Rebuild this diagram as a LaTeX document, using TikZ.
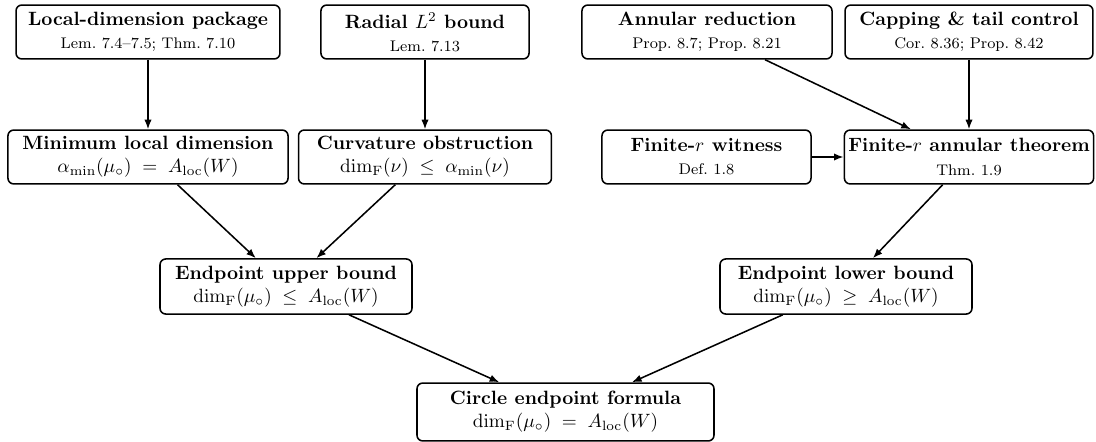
\documentclass[tikz,border=0pt]{standalone}
\usetikzlibrary{arrows.meta}
\begin{document}
\begin{tikzpicture}[x=0.5195pt,y=-0.5195pt,
  box/.style={draw, line width=0.8pt, rounded corners=3pt, align=center, inner sep=2pt, minimum height=28pt, fill=white},
  arr/.style={-{Latex[length=5pt,width=3.8pt]}, line width=0.8pt}]
\useasboundingbox (0,0) rectangle (1096,442);
% row 1
\node[box, minimum width=137.1pt] (ldp) at (148,32) {\textbf{Local-dimension package}\\{\footnotesize Lem.~7.4--7.5; Thm.~7.10}};
\node[box, minimum width=108.1pt] (rad) at (425,32) {\textbf{Radial $L^2$ bound}\\{\footnotesize Lem.~7.13}};
\node[box, minimum width=129.9pt] (ann) at (707,32) {\textbf{Annular reduction}\\{\footnotesize Prop.~8.7; Prop.~8.21}};
\node[box, minimum width=128.8pt] (cap) at (969,32) {\textbf{Capping \& tail control}\\{\footnotesize Cor.~8.36; Prop.~8.42}};
% row 2
\node[box, minimum width=145.5pt] (mld) at (148,157) {\textbf{Minimum local dimension}\\$\alpha_{\min}(\mu_\circ)\;=\;A_{\mathrm{loc}}(W)$};
\node[box, minimum width=131.4pt] (cur) at (425,157) {\textbf{Curvature obstruction}\\$\dim_{\mathrm{F}}(\nu)\;\le\;\alpha_{\min}(\nu)$};
\node[box, minimum width=108.6pt] (wit) at (706.5,157) {\textbf{Finite-$r$ witness}\\{\footnotesize Def.~1.8}};
\node[box, minimum width=127.8pt] (fat) at (969,157) {\textbf{Finite-$r$ annular theorem}\\{\footnotesize Thm.~1.9}};
% row 3
\node[box, minimum width=130.9pt, minimum height=28.6pt] (upb) at (286,286.5) {\textbf{Endpoint upper bound}\\$\dim_{\mathrm{F}}(\mu_\circ)\;\le\;A_{\mathrm{loc}}(W)$};
\node[box, minimum width=130.9pt, minimum height=28.6pt] (lob) at (846,286.5) {\textbf{Endpoint lower bound}\\$\dim_{\mathrm{F}}(\mu_\circ)\;\ge\;A_{\mathrm{loc}}(W)$};
% row 4
\node[box, minimum width=154.3pt, minimum height=30.1pt] (cef) at (565.5,412) {\textbf{Circle endpoint formula}\\$\dim_{\mathrm{F}}(\mu_\circ)\;=\;A_{\mathrm{loc}}(W)$};
% connectors
\draw[arr] (ldp) -- (mld);
\draw[arr] (rad) -- (cur);
\draw[arr] (ann) -- (fat);
\draw[arr] (cap) -- (fat);
\draw[arr] (wit) -- (fat);
\draw[arr] (mld) -- (upb);
\draw[arr] (cur) -- (upb);
\draw[arr] (fat) -- (lob);
\draw[arr] (upb) -- (cef);
\draw[arr] (lob) -- (cef);
\end{tikzpicture}
\end{document}
